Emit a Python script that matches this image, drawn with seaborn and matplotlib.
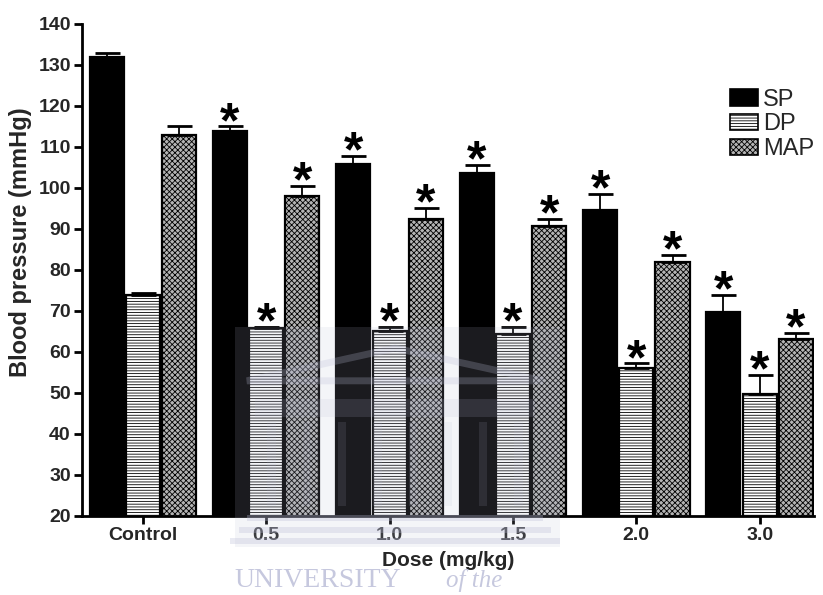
import matplotlib
matplotlib.use("Agg")
import matplotlib.pyplot as plt
from matplotlib.patches import Patch, Rectangle, Polygon
import numpy as np
import pandas as pd
import seaborn as sns

# Blood pressure by dose (mean values and upper SEM)
doses = ["Control", "0.5", "1.0", "1.5", "2.0", "3.0"]
series = ["SP", "DP", "MAP"]
sp_mean = [132.0, 114.0, 105.9, 103.7, 94.6, 69.8]
sp_sem = [1.0, 1.0, 2.0, 2.0, 3.9, 4.0]
dp_mean = [73.8, 65.8, 65.2, 64.3, 56.2, 49.7]
dp_sem = [0.5, 0.4, 0.8, 1.7, 1.0, 4.6]
map_mean = [112.8, 98.0, 92.4, 90.7, 81.9, 63.2]
map_sem = [2.3, 2.4, 2.7, 1.8, 1.8, 1.4]
# significance marks (True = asterisk above the bar)
sp_sig = [False, True, True, True, True, True]
dp_sig = [False, True, True, True, True, True]
map_sig = [False, True, True, True, True, True]

means = {"SP": sp_mean, "DP": dp_mean, "MAP": map_mean}
sems = {"SP": sp_sem, "DP": dp_sem, "MAP": map_sem}
sigs = {"SP": sp_sig, "DP": dp_sig, "MAP": map_sig}

df = pd.DataFrame(
    [(d, s, means[s][i]) for s in series for i, d in enumerate(doses)],
    columns=["Dose", "Series", "BP"],
)

sns.set_style("white")
plt.rcParams["font.family"] = ["Liberation Sans", "DejaVu Sans"]
plt.rcParams["hatch.linewidth"] = 0.6

fig = plt.figure(figsize=(8.23, 5.95), dpi=100)
ax = fig.add_axes([0.0996, 0.1328, 0.8894, 0.8269])

sns.barplot(
    data=df, x="Dose", y="BP", hue="Series", order=doses, hue_order=series,
    errorbar=None, width=0.88, gap=0.06, legend=False, ax=ax,
    palette=["black", "white", "#b4b4b4"], saturation=1,
)

styles = {
    "SP": dict(face="black", hatch=None),
    "DP": dict(face="white", hatch="------"),
    "MAP": dict(face="#b4b4b4", hatch="xxxxxx"),
}

for s, cont in zip(series, ax.containers):
    for bar in cont:
        bar.set_facecolor(styles[s]["face"])
        bar.set_edgecolor("black")
        bar.set_linewidth(1.6)
        if styles[s]["hatch"]:
            bar.set_hatch(styles[s]["hatch"])
    xs = np.array([b.get_x() + b.get_width() / 2 for b in cont])
    ys = np.array([b.get_height() for b in cont])
    err = np.array(sems[s])
    ax.errorbar(xs, ys, yerr=[np.zeros_like(err), err], fmt="none",
                ecolor="black", elinewidth=1.3, capsize=9, capthick=2.0, zorder=3)
    for x, y, e, flag in zip(xs, ys, err, sigs[s]):
        if flag:
            ax.annotate("*", xy=(x, y + e), xytext=(0, -7.5),
                        textcoords="offset points", ha="center", va="baseline",
                        fontsize=36, fontweight="bold", color="black")

ax.set_ylim(20, 140)
ax.set_xlim(-0.494, 5.44)
ax.set_yticks(np.arange(20, 141, 10))
ax.set_xlabel("Dose (mg/kg)", fontsize=15, fontweight="bold", labelpad=5)
ax.set_ylabel("Blood pressure (mmHg)", fontsize=17, fontweight="bold")
ax.yaxis.set_label_coords(-0.068, 0.557)
for lab in ax.get_xticklabels() + ax.get_yticklabels():
    lab.set_fontweight("bold")
    lab.set_fontsize(14)
ax.tick_params(axis="both", direction="out", length=6, width=2, color="black", pad=2)
ax.tick_params(left=True, bottom=True)
sns.despine(ax=ax)
for sp in ["left", "bottom"]:
    ax.spines[sp].set_linewidth(2)
    ax.spines[sp].set_color("black")

handles = [
    Patch(facecolor=styles[s]["face"], edgecolor="black", hatch=styles[s]["hatch"], linewidth=1.2)
    for s in series
]
fig.legend(handles, series, loc="upper left", bbox_to_anchor=(0.887, 0.851),
           frameon=False, fontsize=17, handlelength=1.2, handleheight=0.7,
           labelspacing=0.12, handletextpad=0.2, borderpad=0, borderaxespad=0)

# faint university watermark
wm = "#b9bcd6"
fig.patches.append(Rectangle((0.286, 0.08), 0.395, 0.37, transform=fig.transFigure,
                             facecolor=wm, alpha=0.15, edgecolor="none", zorder=5))
fig.patches.append(Polygon([[0.30, 0.36], [0.48, 0.415], [0.66, 0.36]], closed=True,
                           transform=fig.transFigure, facecolor="none",
                           edgecolor=wm, linewidth=5, alpha=0.25, zorder=5))
fig.patches.append(Rectangle((0.31, 0.30), 0.34, 0.03, transform=fig.transFigure,
                             facecolor=wm, alpha=0.15, edgecolor="none", zorder=5))
for xc in np.linspace(0.33, 0.63, 8):
    fig.patches.append(Rectangle((xc - 0.005, 0.15), 0.01, 0.14, transform=fig.transFigure,
                                 facecolor=wm, alpha=0.12, edgecolor="none", zorder=5))
for i, yy in enumerate([0.125, 0.105, 0.085]):
    fig.patches.append(Rectangle((0.30 - 0.01 * i, yy), 0.36 + 0.02 * i, 0.01,
                                 transform=fig.transFigure, facecolor=wm, alpha=0.3,
                                 edgecolor="none", zorder=5))
fig.text(0.285, 0.014, "UNIVERSITY", fontsize=20, color="#c6c8de",
         family=["Liberation Serif", "DejaVu Serif"], ha="left", va="baseline", zorder=6)
fig.text(0.542, 0.014, "of the", fontsize=18, color="#c6c8de", style="italic",
         family=["Liberation Serif", "DejaVu Serif"], ha="left", va="baseline", zorder=6)

fig.savefig("out.png", dpi=100, facecolor="white")
